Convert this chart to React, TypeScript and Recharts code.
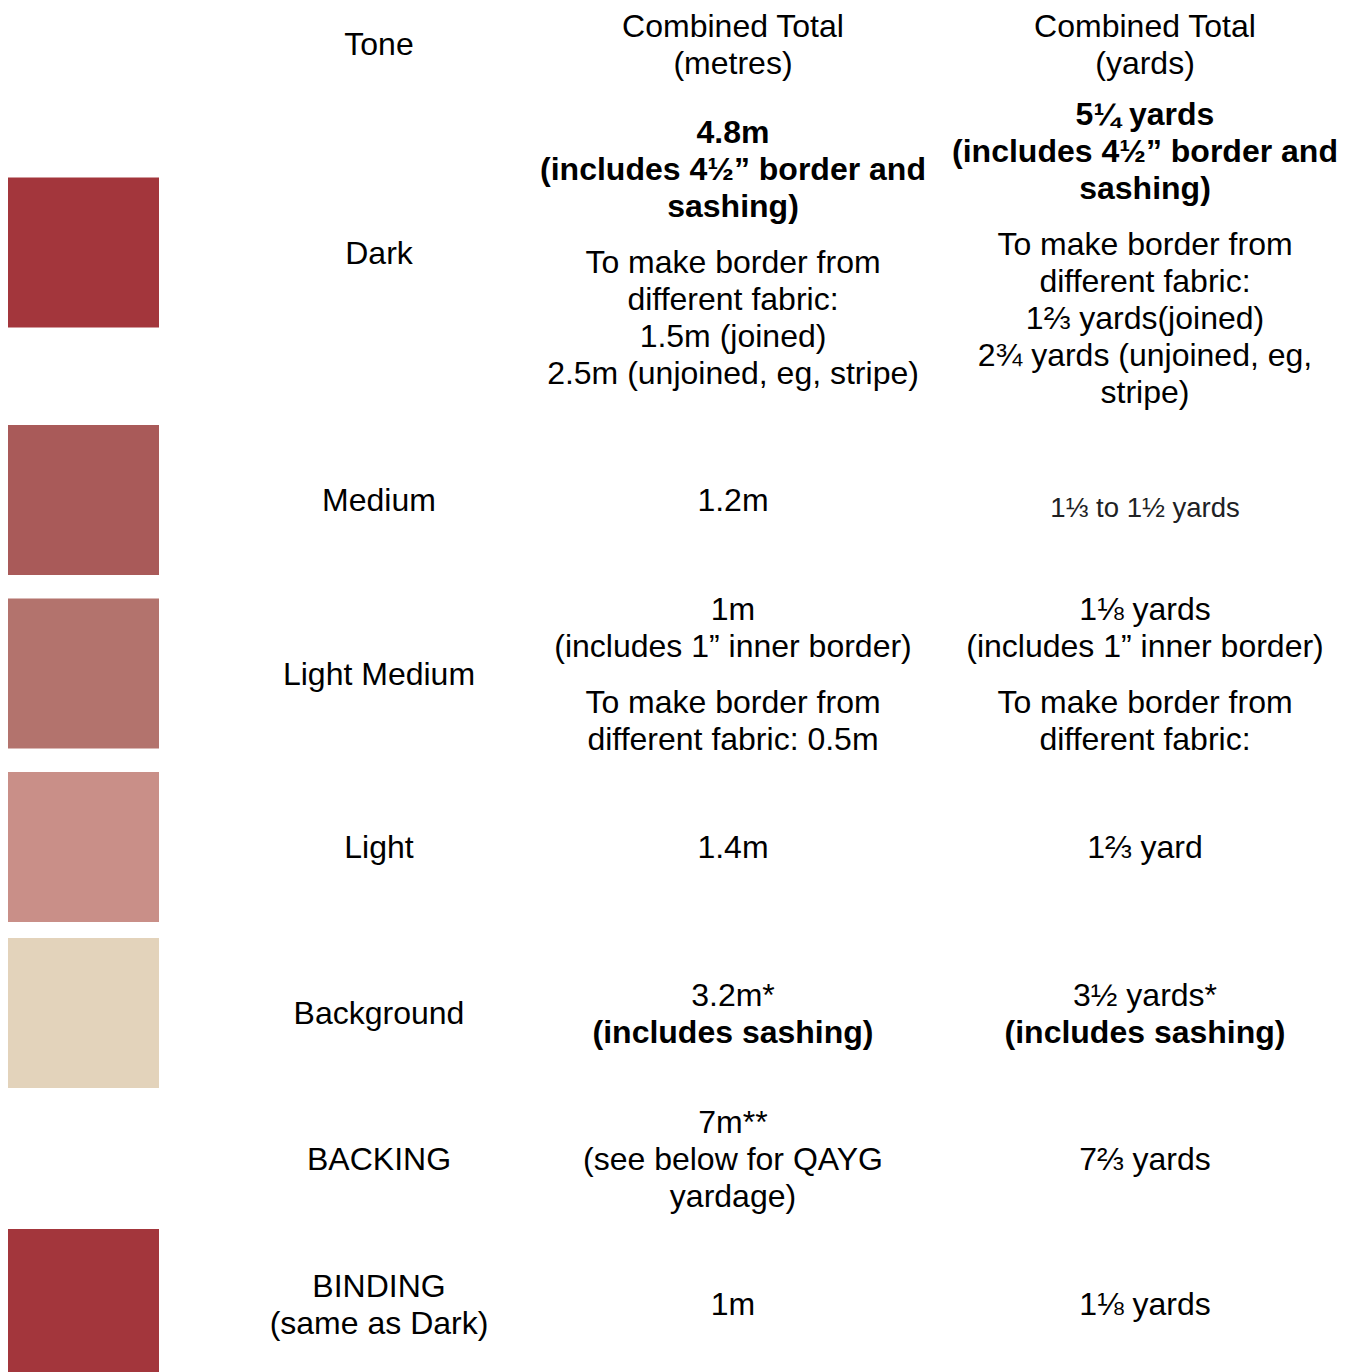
import { BarChart, Bar, XAxis, YAxis } from "recharts";

// one entry per table row, top to bottom
const TONES = [
  "Tone",
  "Dark",
  "Medium",
  "Light Medium",
  "Light",
  "Background",
  "BACKING",
  "BINDING\n(same as Dark)",
];

const SWATCHES = [null, "#a3363c", "#a95a59", "#b3736d", "#c98f88", "#e3d3bb", null, "#a3363c"];

const METRES = [
  "Combined Total\n(metres)",
  "4.8m\n(includes 4½” border and\nsashing)\n\nTo make border from\ndifferent fabric:\n1.5m (joined)\n2.5m (unjoined, eg, stripe)",
  "1.2m",
  "1m\n(includes 1” inner border)\n\nTo make border from\ndifferent fabric: 0.5m",
  "1.4m",
  "3.2m*\n(includes sashing)",
  "7m**\n(see below for QAYG\nyardage)",
  "1m",
];

const YARDS = [
  "Combined Total\n(yards)",
  "5¼ yards\n(includes 4½” border and\nsashing)\n\nTo make border from\ndifferent fabric:\n1⅔ yards(joined)\n2¾ yards (unjoined, eg,\nstripe)",
  "1⅓ to 1½ yards",
  "1⅛ yards\n(includes 1” inner border)\n\nTo make border from\ndifferent fabric:",
  "1⅔ yard",
  "3½ yards*\n(includes sashing)",
  "7⅔ yards",
  "1⅛ yards",
];

const BOLD_LINES = ["4.8m", "5¼ yards", "(includes 4½” border and", "sashing)", "(includes sashing)"];
const SMALL_LINES = ["1⅓ to 1½ yards"];

const W = 1353;
const LINE = 37;
const GAP = 19;
const PAD = 14;
const SWATCH_W = 151;
const SWATCH_H = 150;
const FONT = "'Liberation Sans', Arial, sans-serif";

const cellHeight = (text: string) => {
  const paras = text.split("\n\n");
  const lines = paras.reduce((n, p) => n + p.split("\n").length, 0);
  return lines * LINE + (paras.length - 1) * GAP;
};

// row heights follow from the content of each row
const heights = TONES.map((t, i) =>
  Math.max(cellHeight(t), cellHeight(METRES[i]), cellHeight(YARDS[i]), SWATCHES[i] ? SWATCH_H + 2 : 0) + PAD
);
const total = heights.reduce((a, b) => a + b, 0);

const row: Record<string, string | number> = { name: "table" };
heights.forEach((h, i) => (row[`r${i}`] = h));
const data = [row];

function CellText({ cx, cy, text }: { cx: number; cy: number; text: string }) {
  const paras = text.split("\n\n").map((p) => p.split("\n"));
  const h = cellHeight(text) - LINE;
  let y = cy - h / 2;
  const out: JSX.Element[] = [];
  paras.forEach((lines, pi) => {
    if (pi > 0) y += GAP;
    lines.forEach((ln, li) => {
      const small = SMALL_LINES.includes(ln);
      out.push(
        <text
          key={`${pi}-${li}`}
          x={cx}
          y={small ? y + 7 : y}
          textAnchor="middle"
          dominantBaseline="central"
          fontSize={small ? 27.5 : 32}
          fontWeight={BOLD_LINES.includes(ln) ? 700 : 400}
          fill={small ? "#202124" : "#000"}
          fontFamily={FONT}
        >
          {ln}
        </text>
      );
      y += LINE;
    });
  });
  return <g>{out}</g>;
}

function RowShape(props: any) {
  const { x, y, height, i } = props;
  const top = Math.min(y, y + height);
  const cy = top + Math.abs(height) / 2;
  const color = SWATCHES[i];
  return (
    <g>
      {color && <rect x={x + 8} y={cy - SWATCH_H / 2} width={SWATCH_W} height={SWATCH_H} fill={color} />}
      <CellText cx={x + 379} cy={cy} text={TONES[i]} />
      <CellText cx={x + 733} cy={cy} text={METRES[i]} />
      <CellText cx={x + 1145} cy={cy} text={YARDS[i]} />
    </g>
  );
}

export default function App() {
  return (
    <div
      style={{
        position: "absolute",
        left: 0,
        top: 0,
        width: W,
        height: 1372,
        overflow: "hidden",
        background: "#fff",
      }}
    >
      <BarChart
        width={W}
        height={total}
        data={data}
        margin={{ top: 0, right: 0, bottom: 0, left: 0 }}
        barCategoryGap={0}
        barGap={0}
      >
        <XAxis dataKey="name" hide />
        <YAxis type="number" domain={[0, total]} reversed hide />
        {heights.map((_, i) => (
          <Bar
            key={i}
            dataKey={`r${i}`}
            stackId="table"
            fill="none"
            isAnimationActive={false}
            shape={(p: any) => <RowShape {...p} i={i} />}
          />
        ))}
      </BarChart>
    </div>
  );
}
